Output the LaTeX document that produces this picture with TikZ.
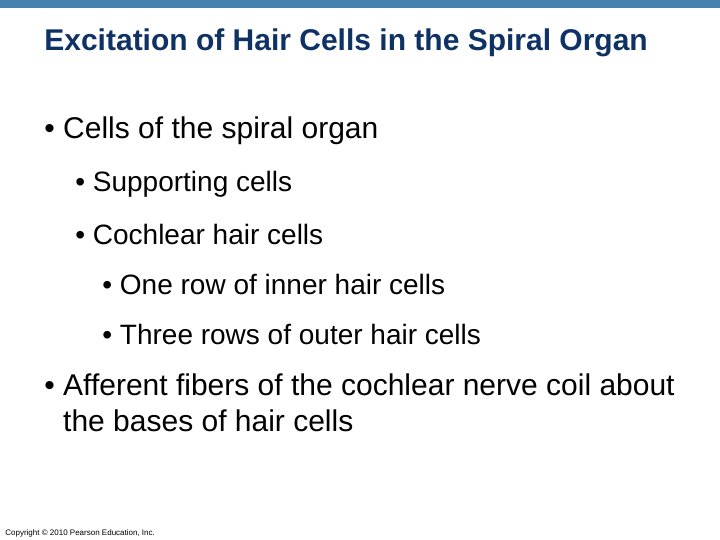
\documentclass[tikz,border=0pt]{standalone}
\usepackage{fontspec}
\setmainfont{Liberation Sans}
\definecolor{barblue}{RGB}{70,130,175}
\definecolor{titlenavy}{RGB}{15,50,100}
\tikzset{every picture/.style={line width=0.75pt}}
\tikzset{
  lvlone/.style={anchor=west,inner sep=0pt,font=\fontsize{30}{36}\selectfont},
  lvltwo/.style={anchor=west,inner sep=0pt,font=\fontsize{28}{33}\selectfont},
}
\begin{document}
\begin{tikzpicture}[x=1pt,y=1pt,yscale=-1,xscale=1]
	\useasboundingbox (0,0) rectangle (720,540);
	%Shape: Rectangle [id:bar]
	\fill [barblue] (0,0) rectangle (720,8);

	% Text Node
	\node [anchor=west,inner sep=0pt,text=titlenavy,font=\fontsize{30}{36}\selectfont\bfseries] (title) at (44,43) {Excitation of Hair Cells in the Spiral Organ};
	% Text Node
	\node [lvlone] (cells) at (44,131) {\textbullet\ Cells of the spiral organ};
	% Text Node
	\node [lvltwo] (support) at (75,184) {\textbullet\ Supporting cells};
	% Text Node
	\node [lvltwo] (cochlear) at (75,234) {\textbullet\ Cochlear hair cells};
	% Text Node
	\node [lvltwo] (inner) at (102,284) {\textbullet\ One row of inner hair cells};
	% Text Node
	\node [lvltwo] (outer) at (102,334) {\textbullet\ Three rows of outer hair cells};
	% Text Node
	\node [lvlone,align=left] (afferent) at (44,403) {\textbullet\ Afferent fibers of the cochlear nerve coil about\\\phantom{\textbullet\ }the bases of hair cells};
	% Text Node
	\node [anchor=west,inner sep=0pt,font=\fontsize{8}{9}\selectfont] (copy) at (5,533) {Copyright \textcopyright\ 2010 Pearson Education, Inc.};
\end{tikzpicture}
\end{document}
